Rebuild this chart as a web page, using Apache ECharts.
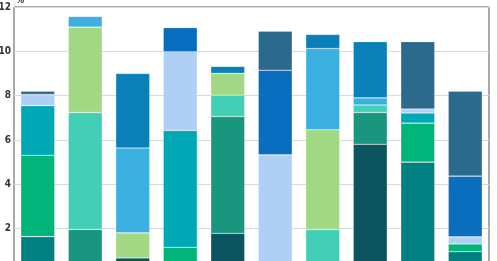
<!DOCTYPE html>
<html><head><meta charset="utf-8">
<script src="https://cdn.jsdelivr.net/npm/echarts@6/dist/echarts.min.js"></script>
<style>html,body{margin:0;padding:0;background:#fff}#c{width:497px;height:261px}</style>
</head><body><div id="c"></div>
<script>
const categories = ['1','2','3','4','5','6','7','8','9','10'];
const yTicks = [0, 2, 4, 6, 8, 10, 12];
const unitLabel = '%';
const sA = [0, 0, 0.68, 0, 1.79, 0, 0, 5.81, 0, 0];
const sB = [1.64, 0, 0, 0, 0, 0, 0, 0, 5.00, 0.96];
const sC = [0, 1.97, 0, 0, 5.27, 0, 0, 1.43, 0, 0];
const sD = [3.67, 0, 0, 1.16, 0, 0, 0, 0, 1.76, 0.35];
const sE = [0, 5.27, 0, 0, 0.96, 0, 1.96, 0.34, 0, 0];
const sF = [0, 3.85, 1.13, 0, 0.99, 0, 4.50, 0, 0, 0];
const sG = [2.24, 0, 0, 5.27, 0, 0, 0, 0, 0.46, 0];
const sH = [0, 0.48, 3.83, 0, 0, 0, 3.67, 0.32, 0, 0];
const sI = [0.50, 0, 0, 3.55, 0, 5.33, 0, 0, 0.18, 0.32];
const sJ = [0, 0, 3.36, 0, 0.31, 0, 0.63, 2.54, 0, 0];
const sK = [0, 0, 0, 1.09, 0, 3.82, 0, 0, 0, 2.74];
const sL = [0.15, 0, 0, 0, 0, 1.76, 0, 0, 3.04, 3.83];

const seriesData = [sA, sB, sC, sD, sE, sF, sG, sH, sI, sJ, sK, sL];
const colors = ['#0b5460','#008080','#1a957e','#00b47a','#43cfb5','#a2d884',
                '#00a7b5','#3aafe0','#b0cff4','#0a7fb8','#0a6ebe','#2b6a8c'];
const labelFont = 'Liberation Sans Narrow, DejaVu Sans Condensed, sans-serif';

const chart = echarts.init(document.getElementById('c'), null, {renderer:'canvas'});
chart.setOption({
  animation: false,
  title: {text: unitLabel, left: 16, top: -4, padding: 0,
          textStyle: {fontFamily: labelFont, fontWeight: 'bold', fontSize: 9, color: '#333'}},
  grid: {left: 14, right: 8, top: 7, height: 266, containLabel: false, outerBoundsMode: 'none',
         show: true, borderColor: '#555', borderWidth: 1, backgroundColor: 'transparent'},
  xAxis: {type: 'category', data: categories, axisLine: {show: false}, axisTick: {show: false}, axisLabel: {show: false}},
  yAxis: {
    type: 'value', min: yTicks[0], max: yTicks[yTicks.length-1], interval: 2,
    axisLine: {show: false}, axisTick: {show: false},
    axisLabel: {margin: 3, fontFamily: labelFont, fontWeight: 'bold', fontSize: 10, color: '#333',
      formatter: v => (v === 0 ? '' : String(v))},
    splitLine: {lineStyle: {color: '#d9d9d9', width: 1}}
  },
  series: seriesData.map((d, i) => ({
    type: 'bar', stack: 'all', barWidth: 34,
    data: d.map(v => (v === 0 ? '-' : v)),
    itemStyle: {color: colors[i], borderColor: 'rgba(255,255,255,0.35)', borderWidth: 0.6}
  }))
});
</script></body></html>
